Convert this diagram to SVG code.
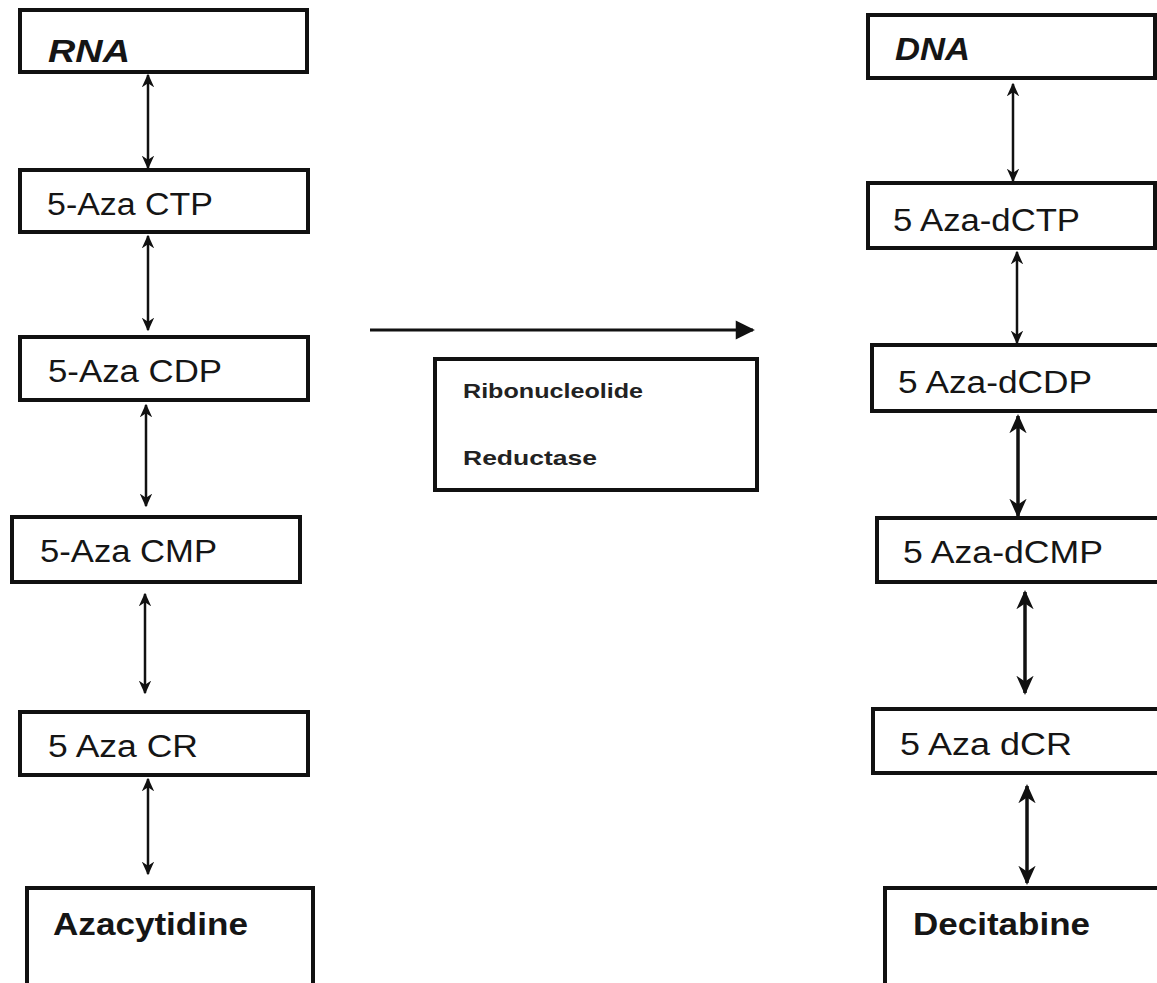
<svg xmlns="http://www.w3.org/2000/svg" width="1157" height="983" viewBox="0 0 1157 983">
<defs>
<style>
.box{fill:#fff;stroke:#111;stroke-width:4}
.t{font-family:"Liberation Sans",Arial,sans-serif;font-size:31px;fill:#151515}
.b{font-weight:bold}
.bi{font-weight:bold;font-style:italic}
.s{font-family:"Liberation Sans",Arial,sans-serif;font-size:21px;font-weight:bold;fill:#222}
.c{fill:none;stroke:#111;stroke-width:2.5}
.c2{fill:none;stroke:#111;stroke-width:3.5}
</style>
<marker id="ah" viewBox="0 0 10 10" refX="9" refY="5" markerWidth="5.5" markerHeight="5.5" orient="auto-start-reverse" markerUnits="strokeWidth">
<path d="M0,0.5 L10,5 L0,9.5 L3,5 z" fill="#111"/>
</marker>
<marker id="big" viewBox="0 0 10 10" refX="9" refY="5" markerWidth="7" markerHeight="6" orient="auto" markerUnits="strokeWidth">
<path d="M0,0 L10,5 L0,10 z" fill="#111"/>
</marker>
</defs>
<rect width="1157" height="983" fill="#fff"/>

<g id="connectors">
<line class="c" x1="148" y1="75" x2="148" y2="168" marker-start="url(#ah)" marker-end="url(#ah)"/>
<line class="c" x1="148" y1="236" x2="148" y2="330" marker-start="url(#ah)" marker-end="url(#ah)"/>
<line class="c" x1="146" y1="405" x2="146" y2="506" marker-start="url(#ah)" marker-end="url(#ah)"/>
<line class="c" x1="145" y1="594" x2="145" y2="693" marker-start="url(#ah)" marker-end="url(#ah)"/>
<line class="c" x1="148" y1="779" x2="148" y2="874" marker-start="url(#ah)" marker-end="url(#ah)"/>
<line class="c" x1="1013" y1="84" x2="1013" y2="181" marker-start="url(#ah)" marker-end="url(#ah)"/>
<line class="c" x1="1017" y1="252" x2="1017" y2="343" marker-start="url(#ah)" marker-end="url(#ah)"/>
<line class="c2" x1="1018" y1="416" x2="1018" y2="516" marker-start="url(#ah)" marker-end="url(#ah)"/>
<line class="c2" x1="1025" y1="592" x2="1025" y2="693" marker-start="url(#ah)" marker-end="url(#ah)"/>
<line class="c2" x1="1027" y1="786" x2="1027" y2="883" marker-start="url(#ah)" marker-end="url(#ah)"/>
<line x1="370" y1="330" x2="753" y2="330" stroke="#111" stroke-width="3.2" marker-end="url(#big)"/>
</g>

<g id="rna"><rect class="box" x="20" y="10" width="287" height="62"/><text class="t bi" x="48" y="62" textLength="82" lengthAdjust="spacingAndGlyphs">RNA</text></g>
<g id="azactp"><rect class="box" x="20" y="170" width="288" height="62"/><text class="t" x="47" y="215" textLength="166" lengthAdjust="spacingAndGlyphs">5-Aza CTP</text></g>
<g id="azacdp"><rect class="box" x="20" y="337" width="288" height="63"/><text class="t" x="48" y="382" textLength="174" lengthAdjust="spacingAndGlyphs">5-Aza CDP</text></g>
<g id="azacmp"><rect class="box" x="12" y="517" width="288" height="65"/><text class="t" x="40" y="562" textLength="177" lengthAdjust="spacingAndGlyphs">5-Aza CMP</text></g>
<g id="azacr"><rect class="box" x="20" y="712" width="288" height="63"/><text class="t" x="48" y="757" textLength="150" lengthAdjust="spacingAndGlyphs">5 Aza CR</text></g>
<g id="azacytidine"><rect class="box" x="27" y="888" width="286" height="110"/><text class="t b" x="53" y="935" textLength="195" lengthAdjust="spacingAndGlyphs">Azacytidine</text></g>

<g id="reductase"><rect class="box" x="435" y="359" width="322" height="131"/>
<text class="s" x="463" y="398" textLength="180" lengthAdjust="spacingAndGlyphs">Ribonucleolide</text>
<text class="s" x="463" y="465" textLength="134" lengthAdjust="spacingAndGlyphs">Reductase</text></g>

<g id="dna"><rect class="box" x="868" y="15" width="287" height="63"/><text class="t bi" x="895" y="60" textLength="75" lengthAdjust="spacingAndGlyphs">DNA</text></g>
<g id="azadctp"><rect class="box" x="868" y="183" width="287" height="65"/><text class="t" x="893" y="231" textLength="187" lengthAdjust="spacingAndGlyphs">5 Aza-dCTP</text></g>
<g id="azadcdp"><rect class="box" x="872" y="345" width="287" height="66"/><text class="t" x="898" y="393" textLength="194" lengthAdjust="spacingAndGlyphs">5 Aza-dCDP</text></g>
<g id="azadcmp"><rect class="box" x="877" y="518" width="282" height="64"/><text class="t" x="903" y="563" textLength="200" lengthAdjust="spacingAndGlyphs">5 Aza-dCMP</text></g>
<g id="azadcr"><rect class="box" x="873" y="709" width="286" height="64"/><text class="t" x="900" y="755" textLength="172" lengthAdjust="spacingAndGlyphs">5 Aza dCR</text></g>
<g id="decitabine"><rect class="box" x="885" y="888" width="290" height="110"/><text class="t b" x="913" y="935" textLength="177" lengthAdjust="spacingAndGlyphs">Decitabine</text></g>
</svg>
